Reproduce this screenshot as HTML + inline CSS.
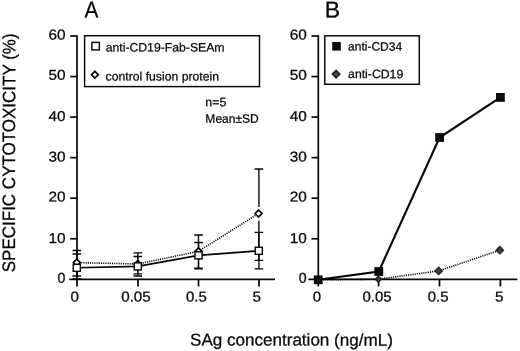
<!DOCTYPE html>
<html><head><meta charset="utf-8"><title>Figure</title>
<style>
html,body{margin:0;padding:0;background:#fff;}
svg{display:block;filter:blur(0.35px);}
text{font-family:"Liberation Sans",Arial,Helvetica,sans-serif;fill:#050505;stroke:#050505;stroke-width:0.25;}
.ax{stroke:#050505;stroke-width:1.7;fill:none;}
.ln{stroke:#050505;stroke-width:1.6;fill:none;}
.dot{stroke:#000;stroke-width:1.6;fill:none;stroke-dasharray:1.1 1.1;}
.eb{stroke:#050505;stroke-width:1.35;fill:none;}
.sq{fill:#fff;stroke:#050505;stroke-width:1.4;}
.dm{fill:#fff;stroke:#050505;stroke-width:1.7;}
.bsq{fill:#0a0a0a;stroke:none;}
.bdm{fill:#404040;stroke:#1c1c1c;stroke-width:1.3;}
</style></head><body>
<svg width="520" height="351" viewBox="0 0 520 351">
<rect x="0" y="0" width="520" height="351" fill="#fff"/>

<text font-size="23.0" transform="translate(84.50,17.6) rotate(0.05) scale(0.9032,1)">A</text>
<text font-size="23.0" transform="translate(324.75,17.6) rotate(0.05) scale(1.0000,1)">B</text>
<text font-size="14.2" transform="translate(48.43,39.4) rotate(0.05) scale(1.0800,1)">60</text>
<text font-size="14.2" transform="translate(48.43,79.8) rotate(0.05) scale(1.0800,1)">50</text>
<text font-size="14.2" transform="translate(48.43,121.1) rotate(0.05) scale(1.0800,1)">40</text>
<text font-size="14.2" transform="translate(48.43,161.4) rotate(0.05) scale(1.0800,1)">30</text>
<text font-size="14.2" transform="translate(48.43,201.4) rotate(0.05) scale(1.0800,1)">20</text>
<text font-size="14.2" transform="translate(48.43,243.0) rotate(0.05) scale(1.0800,1)">10</text>
<text font-size="14.2" transform="translate(57.40,282.7) rotate(0.05) scale(1.0000,1)">0</text>
<text font-size="14.2" transform="translate(289.73,39.4) rotate(0.05) scale(1.0800,1)">60</text>
<text font-size="14.2" transform="translate(289.73,79.8) rotate(0.05) scale(1.0800,1)">50</text>
<text font-size="14.2" transform="translate(289.73,121.1) rotate(0.05) scale(1.0800,1)">40</text>
<text font-size="14.2" transform="translate(289.73,161.4) rotate(0.05) scale(1.0800,1)">30</text>
<text font-size="14.2" transform="translate(289.73,201.4) rotate(0.05) scale(1.0800,1)">20</text>
<text font-size="14.2" transform="translate(289.73,243.0) rotate(0.05) scale(1.0800,1)">10</text>
<text font-size="14.2" transform="translate(298.70,282.7) rotate(0.05) scale(1.0000,1)">0</text>
<text font-size="14.2" transform="translate(70.46,301.4) rotate(0.05) scale(1.0714,1)">0</text>
<text font-size="14.2" transform="translate(121.27,301.4) rotate(0.05) scale(1.0654,1)">0.05</text>
<text font-size="14.2" transform="translate(185.97,301.4) rotate(0.05) scale(1.0560,1)">0.5</text>
<text font-size="14.2" transform="translate(252.46,301.4) rotate(0.05) scale(1.0714,1)">5</text>
<text font-size="14.2" transform="translate(312.77,301.4) rotate(0.05) scale(1.0571,1)">0</text>
<text font-size="14.2" transform="translate(362.47,301.4) rotate(0.05) scale(1.0579,1)">0.05</text>
<text font-size="14.2" transform="translate(427.67,301.4) rotate(0.05) scale(1.0560,1)">0.5</text>
<text font-size="14.2" transform="translate(494.96,301.4) rotate(0.05) scale(1.0714,1)">5</text>
<text font-size="12.2" transform="translate(105.70,51.4) rotate(0.05) scale(1.0026,1)">anti-CD19-Fab-SEAm</text>
<text font-size="12.2" transform="translate(105.60,80.5) rotate(0.05) scale(1.0018,1)">control fusion protein</text>
<text font-size="12.2" transform="translate(205.34,106.3) rotate(0.05) scale(1.0103,1)">n=5</text>
<text font-size="12.2" transform="translate(205.36,122.7) rotate(0.05) scale(0.9868,1)">Mean±SD</text>
<text font-size="12.2" transform="translate(348.11,50.6) rotate(0.05) scale(0.9843,1)">anti-CD34</text>
<text font-size="12.2" transform="translate(348.10,78.1) rotate(0.05) scale(1.0037,1)">anti-CD19</text>
<text font-size="17" transform="translate(190.05,345.5) rotate(0.05) scale(1.0035,1)">SAg concentration (ng/mL)</text>
<text font-size="18" transform="translate(15.0,272.21) rotate(-89.95) scale(0.9441,1)">SPECIFIC CYTOTOXICITY (%)</text>
<path class="ax" d="M77.0,35.25 V286.5"/>
<path class="ax" d="M69.2,279.3 H275"/>
<path class="ax" d="M70.2,238.75 H77.0"/>
<path class="ax" d="M70.2,198.20 H77.0"/>
<path class="ax" d="M70.2,157.65 H77.0"/>
<path class="ax" d="M70.2,117.10 H77.0"/>
<path class="ax" d="M70.2,76.55 H77.0"/>
<path class="ax" d="M70.2,36.00 H77.0"/>
<path class="ax" d="M138.0,279.3 V286.5"/>
<path class="ax" d="M198.5,279.3 V286.5"/>
<path class="ax" d="M259.0,279.3 V286.5"/>
<path class="ax" d="M318.3,35.25 V286.5"/>
<path class="ax" d="M308.4,279.3 H517.4"/>
<path class="ax" d="M311.5,238.75 H318.3"/>
<path class="ax" d="M311.5,198.20 H318.3"/>
<path class="ax" d="M311.5,157.65 H318.3"/>
<path class="ax" d="M311.5,117.10 H318.3"/>
<path class="ax" d="M311.5,76.55 H318.3"/>
<path class="ax" d="M311.5,36.00 H318.3"/>
<path class="ax" d="M378.6,279.3 V286.5"/>
<path class="ax" d="M439.5,279.3 V286.5"/>
<path class="ax" d="M500.4,279.3 V286.5"/>
<rect class="ax" x="84.6" y="35.7" width="174.9" height="50.9" style="stroke-width:1.45"/>
<rect class="ax" x="324.8" y="35.8" width="94.5" height="48.5" style="stroke-width:1.45"/>
<rect class="sq" x="91.85" y="42.40" width="7.5" height="7.5"/>
<path class="dm" d="M94.90,71.30 L98.30,74.70 L94.90,78.10 L91.50,74.70 Z"/>
<rect class="bsq" x="332.20" y="42.00" width="8.6" height="8.6"/>
<path class="bdm" d="M336.10,70.20 L340.00,74.10 L336.10,78.00 L332.20,74.10 Z"/>
<path class="eb" d="M76.8,250.5 V276.0 M72.5,250.5 H81.1 M72.5,276.0 H81.1"/>
<path class="eb" d="M137.8,252.8 V273.8 M133.5,252.8 H142.10000000000002 M133.5,273.8 H142.10000000000002"/>
<path class="eb" d="M198.5,235.0 V268.2 M194.2,235.0 H202.8 M194.2,268.2 H202.8"/>
<path class="eb" d="M258.9,169.0 V260.4 M254.59999999999997,169.0 H263.2 M254.59999999999997,260.4 H263.2"/>
<path class="eb" d="M76.8,254.0 V279.0 M72.5,254.0 H81.1 M72.5,279.0 H81.1"/>
<path class="eb" d="M137.8,256.5 V276.0 M133.5,256.5 H142.10000000000002 M133.5,276.0 H142.10000000000002"/>
<path class="eb" d="M198.5,242.5 V268.9 M194.2,242.5 H202.8 M194.2,268.9 H202.8"/>
<path class="eb" d="M258.9,232.3 V268.8 M254.59999999999997,232.3 H263.2 M254.59999999999997,268.8 H263.2"/>
<path d="M258.9,207 V220.6" stroke="#fff" stroke-width="3" fill="none"/>
<path class="dot" d="M76.8,262.6 L137.8,264.0 L198.5,251.3 L258.5,213.5"/>
<path class="dm" d="M76.80,259.15 L80.25,262.60 L76.80,266.05 L73.35,262.60 Z"/>
<path class="dm" d="M137.80,260.55 L141.25,264.00 L137.80,267.45 L134.35,264.00 Z"/>
<path class="dm" d="M198.50,247.85 L201.95,251.30 L198.50,254.75 L195.05,251.30 Z"/>
<path class="dm" d="M258.50,210.05 L261.95,213.50 L258.50,216.95 L255.05,213.50 Z"/>
<path class="ln" d="M76.8,267.8 L137.8,266.4 L198.5,255.4 L258.8,250.8"/>
<rect class="sq" x="73.25" y="264.25" width="7.1" height="7.1"/>
<rect class="sq" x="134.25" y="262.85" width="7.1" height="7.1"/>
<rect class="sq" x="194.95" y="251.85" width="7.1" height="7.1"/>
<rect class="sq" x="255.25" y="247.25" width="7.1" height="7.1"/>
<path class="dot" d="M318.2,279.8 L378.4,279.2 L438.7,270.9 L499.8,250.2"/>
<path class="bdm" d="M378.40,276.10 L381.50,279.20 L378.40,282.30 L375.30,279.20 Z"/>
<path class="bdm" d="M438.70,267.20 L442.40,270.90 L438.70,274.60 L435.00,270.90 Z"/>
<path class="bdm" d="M499.80,246.50 L503.50,250.20 L499.80,253.90 L496.10,250.20 Z"/>
<path class="ln" style="stroke-width:2.1" d="M318.2,279.8 L378.8,271.5 L439.6,137.5 L500.4,97.4"/>
<rect class="bsq" x="313.80" y="275.40" width="8.8" height="8.8"/>
<rect class="bsq" x="374.40" y="267.10" width="8.8" height="8.8"/>
<rect class="bsq" x="435.20" y="133.10" width="8.8" height="8.8"/>
<rect class="bsq" x="496.00" y="93.00" width="8.8" height="8.8"/>
</svg></body></html>
